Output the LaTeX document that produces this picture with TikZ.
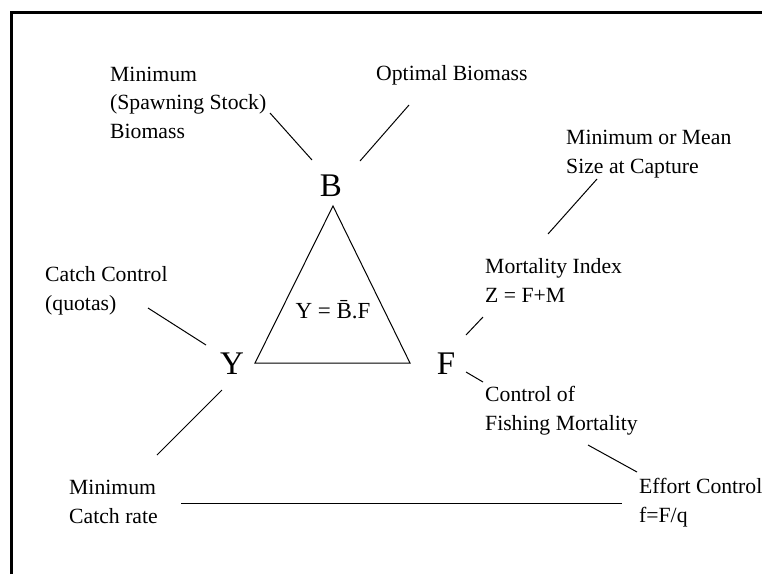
\documentclass[tikz,border=0pt]{standalone}
\usepackage{fontspec}
\setmainfont{Liberation Serif}
\usepackage{tikz}

\tikzset{
	txt/.style={anchor=base west, align=left, inner sep=0pt, font=\fontsize{21.7}{28.5}\selectfont},
	bigletter/.style={inner sep=0pt, font=\fontsize{33}{33}\selectfont},
	link/.style={line width=1pt}
}

\begin{document}
\begin{tikzpicture}[x=1pt,y=-1pt]
\useasboundingbox (0,0) rectangle (762,574);
\draw[line width=3pt] (11,574) -- (11,12) -- (762,12);

\node[bigletter] (B) at (331,186) {B};
\node[bigletter] (Y) at (232,364) {Y};
\node[bigletter] (F) at (446,364) {F};

\coordinate (apex) at (333,206);
\coordinate (baseleft) at (255,363);
\coordinate (baseright) at (410,363);
\draw[link] (apex) -- (baseleft) -- (baseright) -- cycle;
\node[inner sep=0pt, font=\fontsize{23}{23}\selectfont] (yield) at (333,310) {Y = \={B}.F};

% text blocks, placed at the baseline of their last line
\node[txt] (minbio) at (110,138) {Minimum\\(Spawning Stock)\\Biomass};
\node[txt] (optbio) at (376,80) {Optimal Biomass};
\node[txt] (minsize) at (566,173) {Minimum or Mean\\Size at Capture};
\node[txt] (mortidx) at (485,302) {Mortality Index\\Z = F+M};
\node[txt] (catch) at (45,310) {Catch Control\\(quotas)};
\node[txt] (ctrlfish) at (485,430) {Control of\\Fishing Mortality};
\node[txt] (mincatch) at (69,523) {Minimum\\Catch rate};
\node[txt] (effort) at (639,522) {Effort Control\\f=F/q};

\draw[link] ([shift={(160,-25)}]minbio.base west) -- ([shift={(-19,-26)}]B.center);
\draw[link] ([shift={(33,25)}]optbio.base west) -- ([shift={(29,-25)}]B.center);
\draw[link] ([shift={(103,-2)}]catch.base west) -- ([shift={(-26,-19)}]Y.center);
\draw[link] ([shift={(-10,26)}]Y.center) -- ([shift={(88,-68)}]mincatch.base west);
\draw[link] ([shift={(20,-29)}]F.center) -- ([shift={(-2,15)}]mortidx.base west);
\draw[link] ([shift={(63,-68)}]mortidx.base west) -- ([shift={(31,6)}]minsize.base west);
\draw[link] ([shift={(20,8)}]F.center) -- ([shift={(-2,-48)}]ctrlfish.base west);
\draw[link] ([shift={(103,15)}]ctrlfish.base west) -- ([shift={(-2,-50)}]effort.base west);
\draw[link] ([shift={(112,-20)}]mincatch.base west) -- ([shift={(-17,-19)}]effort.base west);
\end{tikzpicture}
\end{document}
